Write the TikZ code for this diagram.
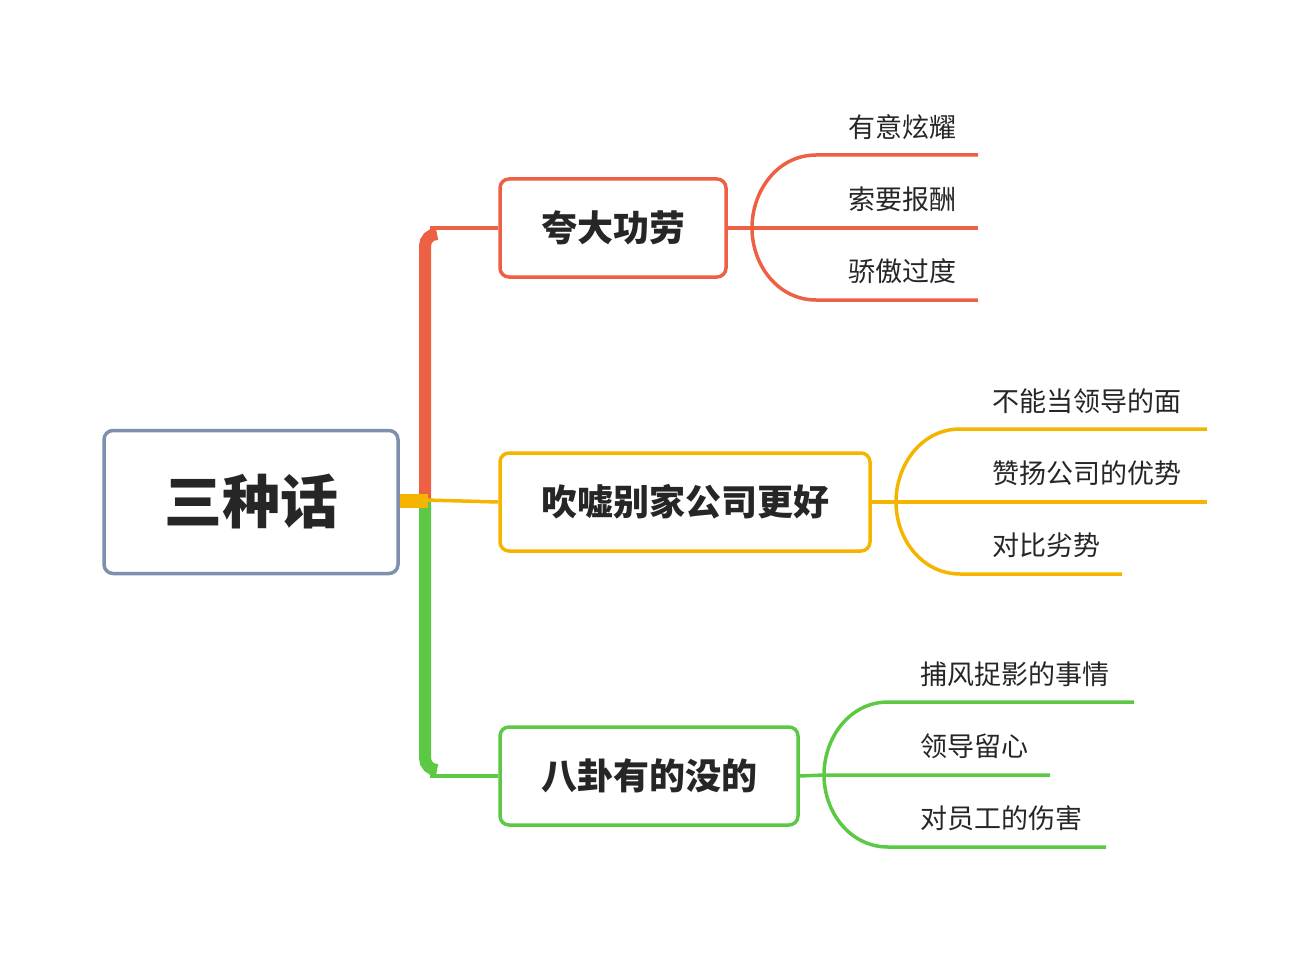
\documentclass[tikz,border=0pt]{standalone}
\usepackage{fontspec}
\setmainfont{Noto Sans CJK SC}
\begin{document}
\begin{tikzpicture}[x=1pt,y=-1pt,
 box/.style={draw,line width=3.5pt,rounded corners=9pt,inner sep=0pt,font=\fontsize{36}{40}\selectfont\bfseries,text=black!85},
 leaf/.style={anchor=west,font=\fontsize{27}{30}\selectfont,text=black!85,inner sep=0pt},
 br/.style={line width=3.5pt}]
\definecolor{cr}{HTML}{EE6043}\definecolor{co}{HTML}{F5B400}\definecolor{cg}{HTML}{5CC945}\definecolor{cb}{HTML}{7F8FAE}
\useasboundingbox (0,0) rectangle (1308,960);
\node[box,draw=cb,minimum width=294pt,minimum height=143pt,font=\fontsize{58}{64}\selectfont\bfseries] (root) at (251,502) {三种话};
\node[box,draw=cr,minimum width=226pt,minimum height=98pt] (b1) at (613,228) {夸大功劳};
\node[box,draw=co,minimum width=370pt,minimum height=98pt] (b2) at (685,502) {吹嘘别家公司更好};
\node[box,draw=cg,minimum width=298pt,minimum height=98pt] (b3) at (649,776) {八卦有的没的};
\coordinate (j) at (425,500);
% trunk
\draw[cr,line width=12pt] (j) -- (425,246) arc[start angle=180,end angle=90,radius=12pt];
\draw[cr,br] (430,228) -- (b1.west);
\draw[cg,line width=12pt] (j) -- (425,758) arc[start angle=180,end angle=270,radius=12pt];
\draw[cg,br] (430,776) -- (b3.west);
\draw[co,br] (j) -- (b2.west);
\fill[co] (root.east) ++(0,-8) rectangle (428,508);
% leaves
\foreach \b/\c/\x/\y/\ea/\eb/\ec/\lx/\ta/\tb/\tc in {
 b1/cr/726/228/978/978/978/848/有意炫耀/索要报酬/骄傲过度,
 b2/co/870/502/1207/1207/1122/992/不能当领导的面/赞扬公司的优势/对比劣势,
 b3/cg/798/775/1134/1050/1106/920/捕风捉影的事情/领导留心/对员工的伤害}{
 \draw[\c,br] (\b.east) -- (\x+26,\y) -- (\eb,\y);
 \draw[\c,br] (\x+26,\y) to[out=90,in=180,looseness=1.0] (\x+90,\y-73) -- (\ea,\y-73);
 \draw[\c,br] (\x+26,\y) to[out=-90,in=180,looseness=1.0] (\x+90,\y+72) -- (\ec,\y+72);
 \node[leaf] at (\lx,\y-101) {\ta};
 \node[leaf] at (\lx,\y-29) {\tb};
 \node[leaf] at (\lx,\y+43) {\tc};
}
\end{tikzpicture}
\end{document}
